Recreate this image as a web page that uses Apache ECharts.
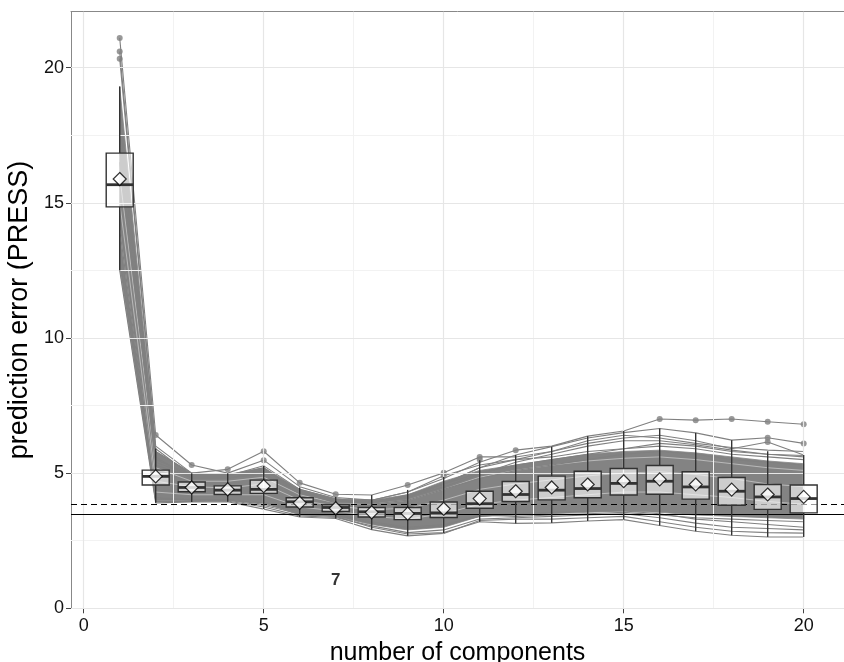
<!DOCTYPE html>
<html>
<head>
<meta charset="utf-8">
<script src="https://cdn.jsdelivr.net/npm/echarts@6/dist/echarts.min.js"></script>
<style>
html,body{margin:0;padding:0;background:#fff;}
#chart{width:844px;height:662px;}
</style>
</head>
<body>
<div id="chart"></div>
<script>
// ---- data ----
const components = [1,2,3,4,5,6,7,8,9,10,11,12,13,14,15,16,17,18,19,20];
const whiskerLow  = [12.5,3.90,3.93,3.94,3.67,3.38,3.32,2.91,2.68,2.77,3.20,3.14,3.16,3.23,3.28,3.06,2.85,2.70,2.64,2.64];
const q1          = [14.85,4.56,4.31,4.21,4.25,3.75,3.58,3.38,3.28,3.36,3.70,3.95,4.01,4.09,4.19,4.22,4.04,3.81,3.66,3.53];
const median      = [15.67,4.88,4.47,4.37,4.40,3.94,3.73,3.57,3.51,3.53,3.87,4.21,4.37,4.43,4.62,4.70,4.49,4.33,4.12,4.06];
const q3          = [16.84,5.11,4.67,4.53,4.74,4.09,3.83,3.73,3.73,3.93,4.33,4.69,4.89,5.07,5.17,5.28,5.05,4.84,4.58,4.56];
const whiskerHigh = [19.30,5.91,5.00,5.00,5.27,4.47,4.12,4.19,4.38,4.86,5.48,5.67,5.98,6.37,6.56,6.65,6.49,6.22,5.81,5.67];
const means       = [15.88,4.88,4.47,4.40,4.52,3.90,3.70,3.55,3.50,3.68,4.06,4.33,4.47,4.58,4.70,4.77,4.58,4.39,4.21,4.12];
const outlierX    = [1,1,1,2,3,4,5,5,6,7,9,10,10,11,11,12,16,17,18,19,19,19,20,20];
const outlierY    = [21.1,20.6,20.33,6.41,5.30,5.14,5.81,5.48,4.64,4.22,4.56,5.01,4.90,5.60,5.50,5.85,7.00,6.96,7.00,6.90,6.31,6.15,6.81,6.10];
// dense region of the replicate curves
const denseLow  = [12.6,4.00,4.00,4.00,3.90,3.45,3.40,3.10,2.90,3.00,3.40,3.45,3.50,3.55,3.60,3.55,3.45,3.40,3.35,3.30];
const denseHigh = [19.3,5.80,5.00,4.95,5.20,4.40,4.05,4.00,4.20,4.70,5.10,5.30,5.50,5.70,5.80,5.85,5.75,5.60,5.45,5.35];
// individual replicate curves visible outside the dense region
const curveA = [17.5,5.60,4.80,4.80,5.00,4.30,4.00,4.00,4.30,4.80,5.40,5.85,6.00,6.37,6.56,7.00,6.96,7.00,6.90,6.81];
const curveB = [16.5,5.40,4.90,4.90,5.20,4.30,3.90,3.90,4.20,4.60,5.20,5.67,5.98,6.30,6.50,6.65,6.49,6.22,6.31,6.10];
const curveC = [18.0,5.80,5.00,5.14,5.81,4.64,4.22,4.19,4.56,5.01,5.60,5.60,5.80,6.10,6.30,6.40,6.20,5.90,6.15,5.67];
const curveD = [21.1,6.41,5.30,5.00,5.48,4.50,4.10,4.00,4.30,4.90,5.30,5.50,5.60,5.80,5.90,6.10,6.00,5.80,5.70,5.60];
const curveE = [20.6,6.00,5.00,4.90,5.27,4.40,4.05,3.90,4.10,4.60,5.00,5.30,5.50,5.70,5.90,6.00,5.90,5.70,5.60,5.50];
const curveF = [20.33,5.90,4.90,4.80,5.10,4.30,4.00,3.85,4.00,4.40,4.80,5.10,5.30,5.50,5.70,5.80,5.70,5.50,5.40,5.30];
const curveG = [13.5,4.00,4.00,4.00,3.80,3.50,3.40,3.00,2.75,2.80,3.20,3.14,3.16,3.23,3.28,3.06,2.85,2.70,2.64,2.64];
const curveH = [12.5,3.90,3.93,3.94,3.67,3.38,3.32,2.91,2.68,2.77,3.25,3.30,3.30,3.35,3.40,3.20,3.00,2.85,2.80,2.78];
const curveI = [14.0,4.10,4.00,4.00,3.90,3.60,3.50,3.20,3.00,3.10,3.40,3.50,3.55,3.60,3.60,3.50,3.30,3.20,3.10,3.00];
const curveJ = [13.0,3.95,3.95,3.97,3.75,3.42,3.36,3.05,2.80,2.90,3.30,3.35,3.40,3.45,3.50,3.35,3.15,3.00,2.95,2.90];
const curveK = [14.5,4.05,4.02,4.02,3.85,3.55,3.45,3.15,2.95,3.05,3.45,3.40,3.45,3.50,3.55,3.45,3.35,3.30,3.25,3.20];
const curveL = [18.5,5.50,4.95,4.95,5.10,4.35,4.00,3.95,4.15,4.60,5.20,5.50,5.80,6.20,6.40,6.30,6.10,5.95,5.85,5.80];
const curveM = [17.0,5.30,4.85,4.85,4.95,4.25,3.95,3.95,4.10,4.50,4.95,5.40,5.70,6.00,6.20,6.20,6.05,5.85,5.70,5.65];
const curves = [curveA, curveB, curveC, curveD, curveE, curveF, curveG, curveH, curveI, curveJ, curveK, curveL, curveM];
// light gaps seen between the packed curves
const gap1 = [16.0,5.20,4.70,4.70,4.85,4.20,3.90,3.85,4.00,4.40,4.85,5.10,5.30,5.45,5.55,5.60,5.50,5.35,5.20,5.10];
const gap2 = [15.0,4.70,4.50,4.45,4.60,4.00,3.78,3.65,3.70,4.00,4.40,4.60,4.75,4.90,5.00,5.05,4.95,4.80,4.60,4.50];
const gap3 = [14.0,4.30,4.20,4.20,4.20,3.75,3.60,3.40,3.30,3.50,3.85,4.00,4.10,4.20,4.30,4.30,4.20,4.10,3.95,3.85];
const gaps = [gap1, gap2, gap3];
const minLine = 3.49;     // solid reference line
const seLine = 3.86;      // dashed reference line
const noteX = 7, noteY = 1.04, noteText = '7';
const xTicks = [0,5,10,15,20];
const yTicks = [0,5,10,15,20];
const xMinorGrid = [2.5,7.5,12.5,17.5];
const yMinorGrid = [2.5,7.5,12.5,17.5];

// ---- chart ----
const chart = echarts.init(document.getElementById('chart'), null, {renderer:'canvas'});
const FONT = 'Liberation Sans, Arial, Helvetica, sans-serif';
const X_MIN = -0.353, X_MAX = 21.12, Y_MIN = 0, Y_MAX = 22.07;
const boxData = components.map((c,i)=>[c, whiskerLow[i], q1[i], median[i], q3[i], whiskerHigh[i]]);
const bandData = components.slice(0,-1).map((c,i)=>[c, denseLow[i], denseHigh[i], denseLow[i+1], denseHigh[i+1], components[i+1]]);

function renderBand(params, api){
  const p1 = api.coord([api.value(0), api.value(1)]);
  const p2 = api.coord([api.value(5), api.value(3)]);
  const p3 = api.coord([api.value(5), api.value(4)]);
  const p4 = api.coord([api.value(0), api.value(2)]);
  return {type:'polygon', shape:{points:[p1,p2,p3,p4]}, style:{fill:'#838383', stroke:'#838383', lineWidth:0.8}};
}
function renderBox(params, api){
  const x = api.value(0);
  const hw = 0.375;
  const pL = api.coord([x, api.value(1)]);
  const p1 = api.coord([x, api.value(2)]);
  const pm = api.coord([x, api.value(3)]);
  const p3 = api.coord([x, api.value(4)]);
  const pH = api.coord([x, api.value(5)]);
  const left = api.coord([x-hw, 0])[0];
  const right = api.coord([x+hw, 0])[0];
  const st = {stroke:'#333333', lineWidth:1.4};
  return {type:'group', children:[
    {type:'line', shape:{x1:pL[0],y1:pL[1],x2:p1[0],y2:p1[1]}, style:st},
    {type:'line', shape:{x1:p3[0],y1:p3[1],x2:pH[0],y2:pH[1]}, style:st},
    {type:'rect', shape:{x:left,y:p3[1],width:right-left,height:p1[1]-p3[1]}, style:{fill:'rgba(255,255,255,0.6)', stroke:'#333333', lineWidth:1.4}},
    {type:'line', shape:{x1:left,y1:pm[1],x2:right,y2:pm[1]}, style:{stroke:'#333333', lineWidth:2.8}}
  ]};
}

const gridLines = [];
xMinorGrid.forEach(v=>gridLines.push({xAxis:v, lineStyle:{color:'#f2f2f2', width:1, type:'solid'}}));
yMinorGrid.forEach(v=>gridLines.push({yAxis:v, lineStyle:{color:'#f2f2f2', width:1, type:'solid'}}));
xTicks.forEach(v=>gridLines.push({xAxis:v, lineStyle:{color:'#e6e6e6', width:1.2, type:'solid'}}));
yTicks.forEach(v=>gridLines.push({yAxis:v, lineStyle:{color:'#e6e6e6', width:1.2, type:'solid'}}));

const series = [];
series.push({type:'line', data:[], z:0, silent:true,
  markLine:{silent:true, symbol:'none', label:{show:false}, animation:false, data:gridLines}});
series.push({type:'custom', renderItem:renderBand, data:bandData, z:1, silent:true, clip:true});
gaps.forEach(cv=>series.push({type:'line', data:components.map((c,i)=>[c,cv[i]]), symbol:'none', z:1, silent:true,
  lineStyle:{color:'#ffffff', width:0.8, opacity:0.55}}));
curves.forEach(cv=>series.push({type:'line', data:components.map((c,i)=>[c,cv[i]]), symbol:'none', z:2, silent:true,
  lineStyle:{color:'#808080', width:1.1}}));
series.push({type:'scatter', data:outlierX.map((x,i)=>[x,outlierY[i]]), symbolSize:6, z:3, silent:true,
  itemStyle:{color:'#808080'}});
series.push({type:'line', data:[], z:4, silent:true,
  markLine:{silent:true, symbol:'none', label:{show:false}, animation:false, data:[
    {yAxis:minLine, lineStyle:{color:'#000', width:1.2, type:'solid'}},
    {yAxis:seLine, lineStyle:{color:'#000', width:1.2, type:[6,4]}}
  ]}});
series.push({type:'custom', renderItem:renderBox, data:boxData, z:5, silent:true});
series.push({type:'scatter', data:components.map((c,i)=>[c,means[i]]), symbol:'diamond', symbolSize:13, z:6, silent:true,
  itemStyle:{color:'#ffffff', borderColor:'#000000', borderWidth:1.2}});
series.push({type:'scatter', data:[[noteX,noteY]], symbolSize:0, z:7, silent:true,
  label:{show:true, position:'inside', formatter:noteText, color:'#000', fontSize:17, fontWeight:'bold', fontFamily:FONT}});

chart.setOption({
  animation:false,
  backgroundColor:'#ffffff',
  grid:{left:71, top:11.7, right:0, bottom:53.7, show:false, containLabel:false, outerBoundsMode:'none'},
  xAxis:[{type:'value', min:X_MIN, max:X_MAX,
    name:'number of components', nameLocation:'middle', nameGap:21,
    nameTextStyle:{fontSize:25, color:'#000', fontFamily:FONT},
    axisLine:{show:true, onZero:false, lineStyle:{color:'#888888', width:1}},
    axisTick:{show:true, length:5, customValues:xTicks, lineStyle:{color:'#444', width:1}},
    axisLabel:{customValues:xTicks, fontSize:18, color:'#111', margin:9, fontFamily:FONT},
    splitLine:{show:false}},
    {type:'value', position:'top', min:X_MIN, max:X_MAX,
    axisLine:{show:true, onZero:false, lineStyle:{color:'#888888', width:1}},
    axisTick:{show:false}, axisLabel:{show:false}, splitLine:{show:false}}],
  yAxis:{type:'value', min:Y_MIN, max:Y_MAX,
    name:'prediction error (PRESS)', nameLocation:'middle', nameGap:19,
    nameTextStyle:{fontSize:27, color:'#000', fontFamily:FONT},
    axisLine:{show:true, onZero:false, lineStyle:{color:'#888888', width:1}},
    axisTick:{show:true, length:5, customValues:yTicks, lineStyle:{color:'#444', width:1}},
    axisLabel:{customValues:yTicks, fontSize:18, color:'#111', margin:7, fontFamily:FONT},
    splitLine:{show:false}},
  series:series
});
</script>
</body>
</html>
